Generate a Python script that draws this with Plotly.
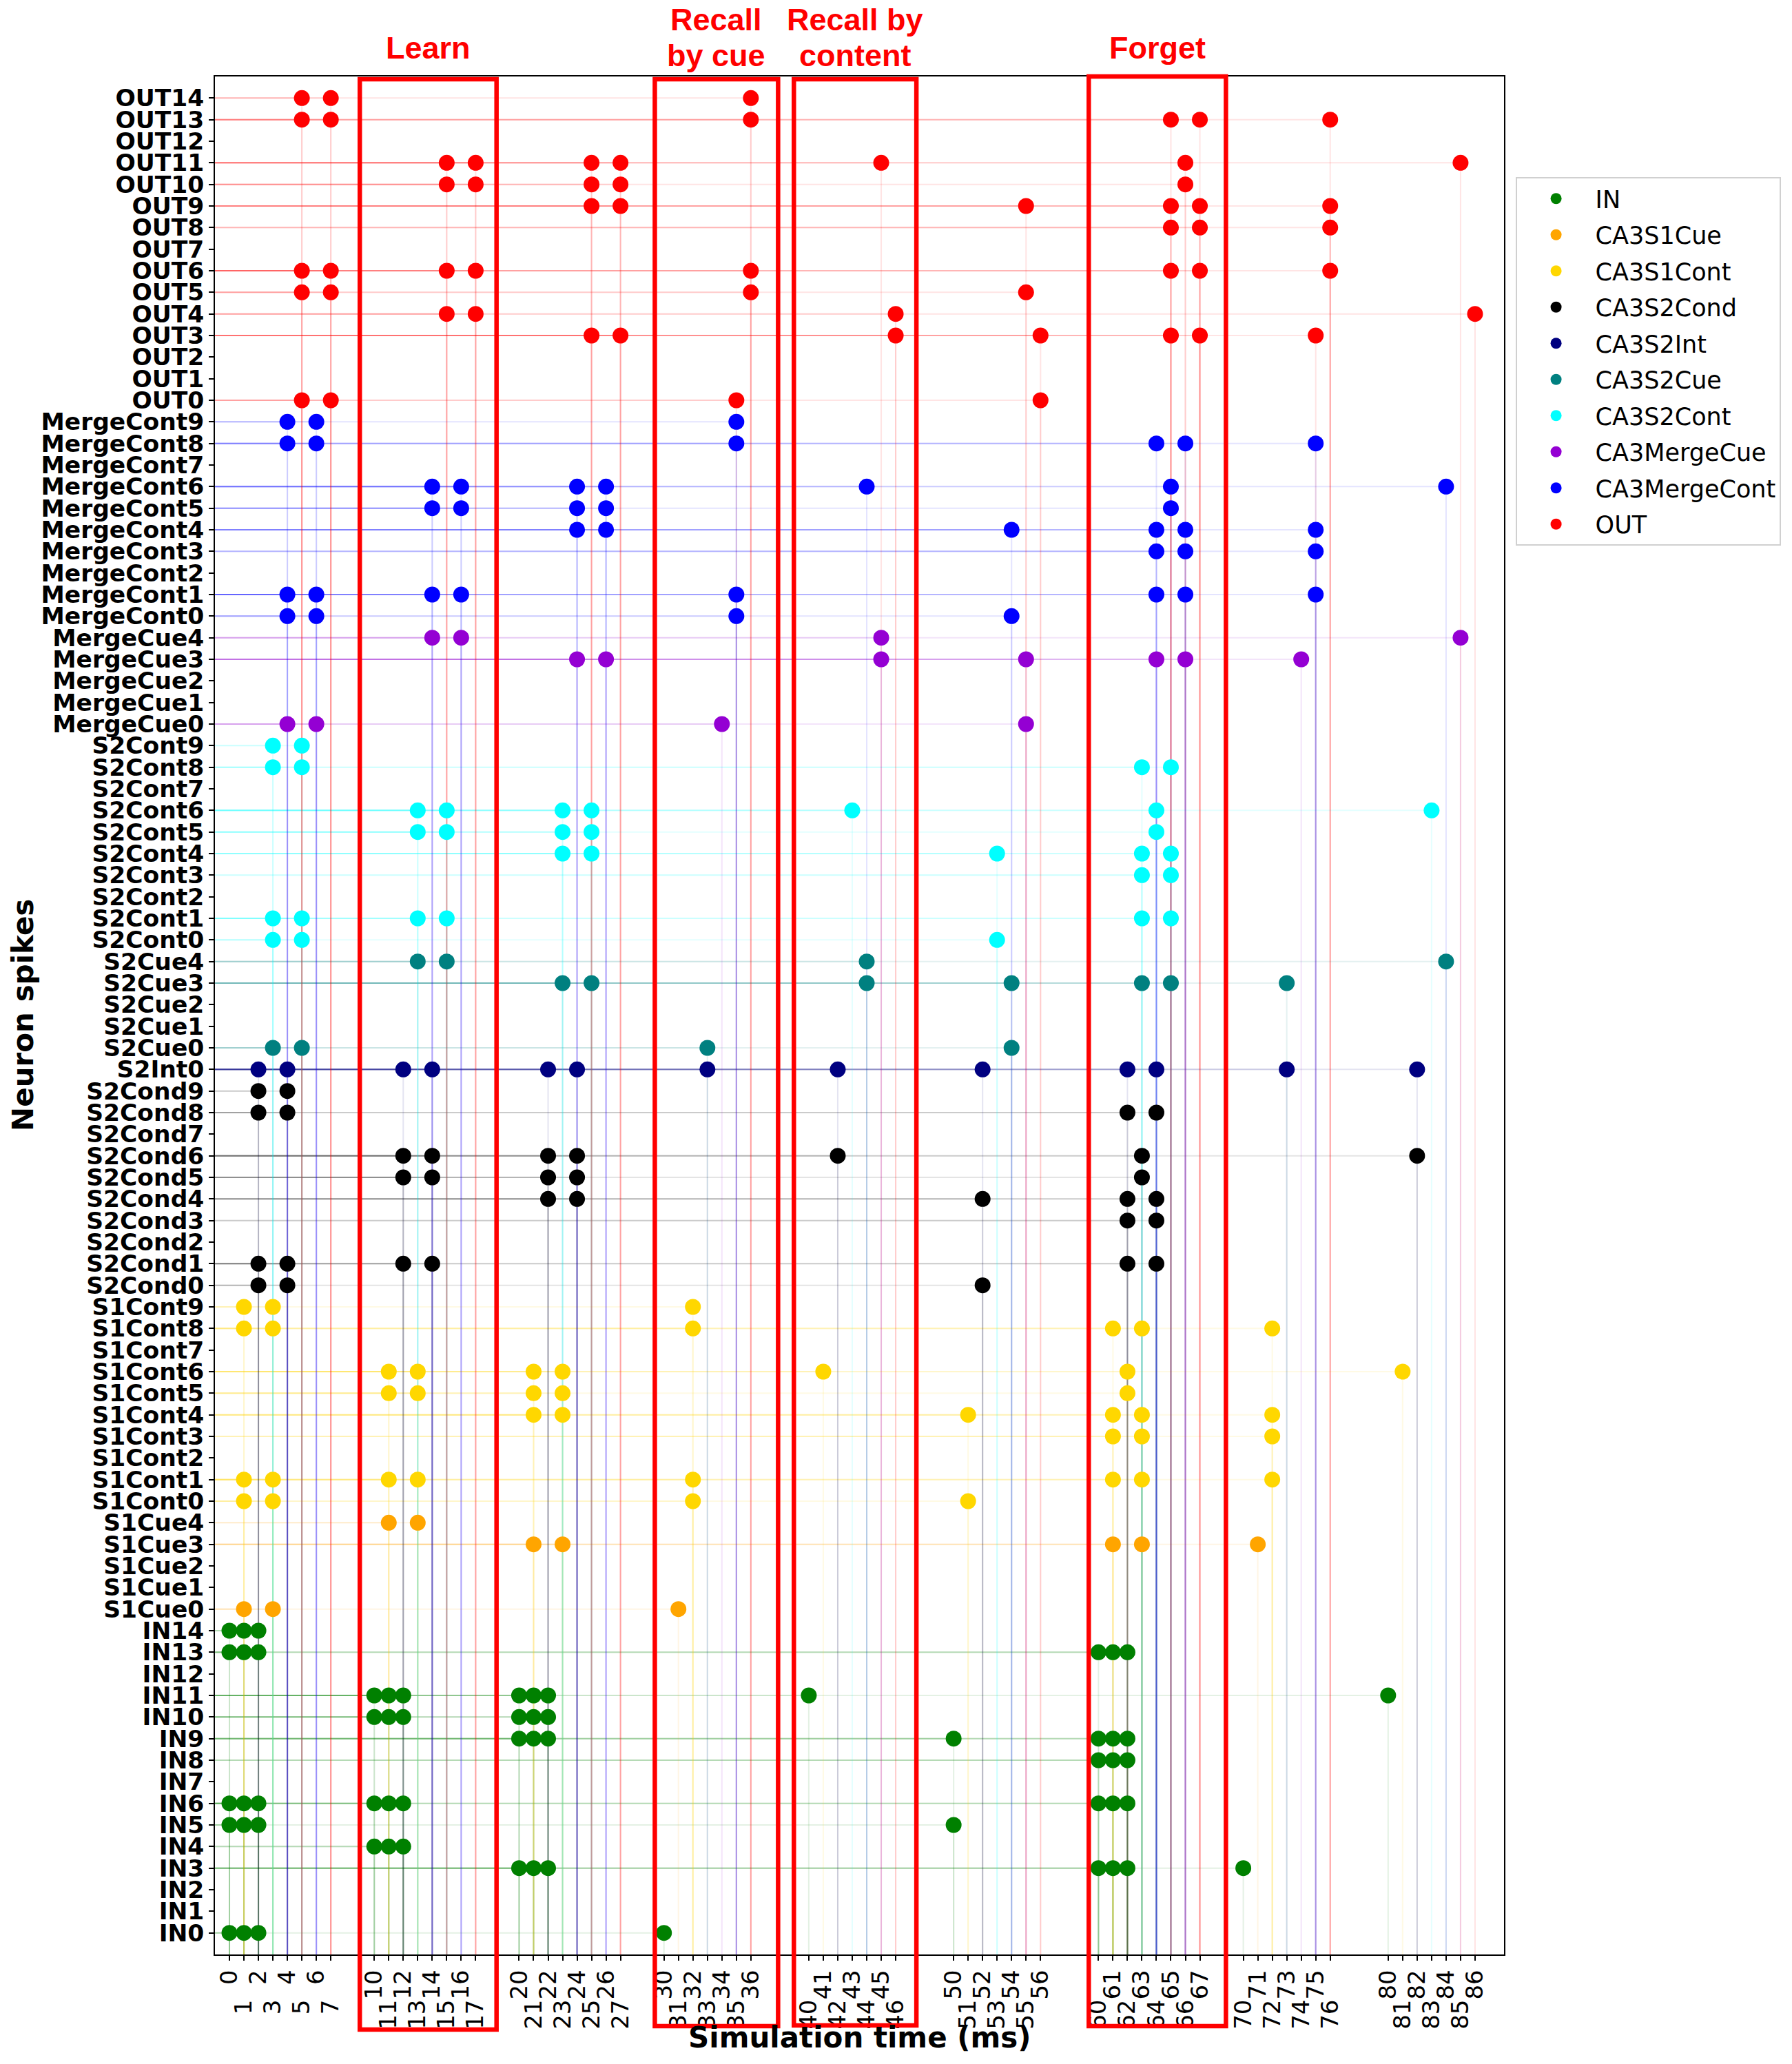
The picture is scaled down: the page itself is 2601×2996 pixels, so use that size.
import plotly.graph_objects as go

# ---------------- data ----------------
group_names = ["IN", "CA3S1Cue", "CA3S1Cont", "CA3S2Cond", "CA3S2Int",
               "CA3S2Cue", "CA3S2Cont", "CA3MergeCue", "CA3MergeCont", "OUT"]
group_prefix = ["IN", "S1Cue", "S1Cont", "S2Cond", "S2Int",
                "S2Cue", "S2Cont", "MergeCue", "MergeCont", "OUT"]
group_sizes = [15, 5, 10, 10, 1, 5, 10, 5, 10, 15]
group_colors = ["green", "orange", "gold", "black", "navy",
                "teal", "cyan", "darkviolet", "blue", "red"]

# spike times (ms) per neuron index within each group
IN_spikes = {0: [0, 1, 2, 30], 3: [20, 21, 22, 60, 61, 62, 70], 4: [10, 11, 12],
             5: [0, 1, 2, 50], 6: [0, 1, 2, 10, 11, 12, 60, 61, 62], 8: [60, 61, 62],
             9: [20, 21, 22, 50, 60, 61, 62], 10: [10, 11, 12, 20, 21, 22],
             11: [10, 11, 12, 20, 21, 22, 40, 80], 13: [0, 1, 2, 60, 61, 62], 14: [0, 1, 2]}
S1Cue_spikes = {0: [1, 3, 31], 3: [21, 23, 61, 63, 71], 4: [11, 13]}
S1Cont_spikes = {0: [1, 3, 32, 51], 1: [1, 3, 11, 13, 32, 61, 63, 72], 3: [61, 63, 72],
                 4: [21, 23, 51, 61, 63, 72], 5: [11, 13, 21, 23, 62],
                 6: [11, 13, 21, 23, 41, 62, 81], 8: [1, 3, 32, 61, 63, 72], 9: [1, 3, 32]}
S2Cond_spikes = {0: [2, 4, 52], 1: [2, 4, 12, 14, 62, 64], 3: [62, 64],
                 4: [22, 24, 52, 62, 64], 5: [12, 14, 22, 24, 63],
                 6: [12, 14, 22, 24, 42, 63, 82], 8: [2, 4, 62, 64], 9: [2, 4]}
S2Int_spikes = {0: [2, 4, 12, 14, 22, 24, 33, 42, 52, 62, 64, 73, 82]}
S2Cue_spikes = {0: [3, 5, 33, 54], 3: [23, 25, 44, 54, 63, 65, 73], 4: [13, 15, 44, 84]}
S2Cont_spikes = {0: [3, 5, 53], 1: [3, 5, 13, 15, 63, 65], 3: [63, 65],
                 4: [23, 25, 53, 63, 65], 5: [13, 15, 23, 25, 64],
                 6: [13, 15, 23, 25, 43, 64, 83], 8: [3, 5, 63, 65], 9: [3, 5]}
MergeCue_spikes = {0: [4, 6, 34, 55], 3: [24, 26, 45, 55, 64, 66, 74], 4: [14, 16, 45, 85]}
MergeCont_spikes = {0: [4, 6, 35, 54], 1: [4, 6, 14, 16, 35, 64, 66, 75], 3: [64, 66, 75],
                    4: [24, 26, 54, 64, 66, 75], 5: [14, 16, 24, 26, 65],
                    6: [14, 16, 24, 26, 44, 65, 84], 8: [4, 6, 35, 64, 66, 75], 9: [4, 6, 35]}
OUT_spikes = {0: [5, 7, 35, 56], 3: [25, 27, 46, 56, 65, 67, 75], 4: [15, 17, 46, 86],
              5: [5, 7, 36, 55], 6: [5, 7, 15, 17, 36, 65, 67, 76], 8: [65, 67, 76],
              9: [25, 27, 55, 65, 67, 76], 10: [15, 17, 25, 27, 66],
              11: [15, 17, 25, 27, 45, 66, 85], 13: [5, 7, 36, 65, 67, 76], 14: [5, 7, 36]}

group_spikes = [IN_spikes, S1Cue_spikes, S1Cont_spikes, S2Cond_spikes, S2Int_spikes,
                S2Cue_spikes, S2Cont_spikes, MergeCue_spikes, MergeCont_spikes, OUT_spikes]

# phase boxes (ms) and their titles (one list entry per text line)
phase_titles = [["Learn"], ["Recall", "by cue"], ["Recall by", "content"], ["Forget"]]
phase_x0 = [9.0, 29.37, 38.97, 59.33]
phase_x1 = [18.44, 37.88, 47.43, 68.8]

# ---------------- build ----------------
neuron_labels = []
offsets = []
for pre, n in zip(group_prefix, group_sizes):
    offsets.append(len(neuron_labels))
    neuron_labels += [f"{pre}{i}" for i in range(n)]

X_MIN, X_MAX = -1, 88
Y_MIN, Y_MAX = -1, len(neuron_labels)
LINE_OP = 0.1

fig = go.Figure()
shapes = []
all_times = set()

for name, off, spikes, col in zip(group_names, offsets, group_spikes, group_colors):
    xs, ys = [], []
    for idx, times in spikes.items():
        for t in times:
            xs.append(t)
            ys.append(off + idx)
            all_times.add(t)
            shapes.append(dict(type="line", xref="x", yref="y", x0=X_MIN, x1=t,
                               y0=off + idx, y1=off + idx, layer="below",
                               line=dict(color=col, width=2), opacity=LINE_OP))
            shapes.append(dict(type="line", xref="x", yref="y", x0=t, x1=t,
                               y0=Y_MIN, y1=off + idx, layer="below",
                               line=dict(color=col, width=2), opacity=LINE_OP))
    fig.add_trace(go.Scatter(x=xs, y=ys, mode="markers", name=name, legendgroup=name,
                             marker=dict(color=col, size=23, line=dict(width=0)),
                             cliponaxis=False))

# page geometry (browser body has an 8px margin)
BODY = 8
PLOT_L, PLOT_R, PLOT_T, PLOT_B = 312, 2183, 111, 2837
W, H = 2601 - 2 * BODY, 2996 - 2 * BODY
PLOT_W, PLOT_H = PLOT_R - PLOT_L, PLOT_B - PLOT_T

def py(pix):
    return (PLOT_B - pix) / PLOT_H

def px(pix):
    return (pix - PLOT_L) / PLOT_W

box_top = [115, 115, 115, 111]
box_bot = [2946, 2941, 2940, 2941]
for x0, x1, yt, yb in zip(phase_x0, phase_x1, box_top, box_bot):
    shapes.append(dict(type="rect", xref="x", yref="paper", x0=x0, x1=x1,
                       y0=py(yb), y1=py(yt), layer="above",
                       line=dict(color="red", width=6.5), fillcolor="rgba(0,0,0,0)"))

annotations = []
line_centers = {1: [70], 2: [29, 81]}
for x0, x1, lines in zip(phase_x0, phase_x1, phase_titles):
    for txt, yc in zip(lines, line_centers[len(lines)]):
        annotations.append(dict(x=(x0 + x1) / 2, xref="x", y=py(yc), yref="paper",
                                text=f"<b>{txt}</b>", showarrow=False, xanchor="center",
                                yanchor="middle",
                                font=dict(family="Liberation Sans", size=45, color="red")))

annotations.append(dict(x=0.5, xref="paper", y=py(2957), yref="paper",
                        text="<b>Simulation time (ms)</b>", showarrow=False,
                        xanchor="center", yanchor="middle",
                        font=dict(family="DejaVu Sans", size=42, color="black")))
annotations.append(dict(x=px(33), xref="paper", y=0.5, yref="paper",
                        text="<b>Neuron spikes</b>", showarrow=False, textangle=-90,
                        xanchor="center", yanchor="middle",
                        font=dict(family="DejaVu Sans", size=42, color="black")))

tick_vals = sorted(all_times)
NB = "\u00a0"
tick_text = [str(t) if i % 2 == 0 else str(t) + NB * 4 for i, t in enumerate(tick_vals)]

fig.update_layout(
    width=W, height=H,
    margin=dict(l=PLOT_L - BODY, r=W - (PLOT_R - BODY), t=PLOT_T - BODY,
                b=H - (PLOT_B - BODY), autoexpand=False),
    paper_bgcolor="white", plot_bgcolor="white",
    shapes=shapes, annotations=annotations,
    showlegend=True,
    legend=dict(x=px(2208) - 0.0045, y=py(257), xanchor="left", yanchor="top",
                bordercolor="#d0d0d0", borderwidth=2, bgcolor="white",
                font=dict(family="DejaVu Sans", size=35, color="black"),
                itemwidth=104, itemsizing="trace", tracegroupgap=4),
    xaxis=dict(range=[X_MIN, X_MAX], tickmode="array", tickvals=tick_vals, ticktext=tick_text,
               tickangle=-90, showgrid=False, zeroline=False, showline=True, mirror=True,
               linecolor="black", linewidth=1.5, ticks="outside", ticklen=7, tickwidth=1.5,
               tickcolor="black",
               tickfont=dict(family="DejaVu Sans", size=34, color="black")),
    yaxis=dict(range=[Y_MIN, Y_MAX], tickmode="array",
               tickvals=list(range(len(neuron_labels))), ticktext=neuron_labels,
               showgrid=False, zeroline=False, showline=True, mirror=True,
               linecolor="black", linewidth=1.5, ticks="outside", ticklen=7, tickwidth=1.5,
               tickcolor="black",
               tickfont=dict(family="DejaVu Sans", size=34.5, color="black", weight="bold")),
)

fig.write_html("out.html")
